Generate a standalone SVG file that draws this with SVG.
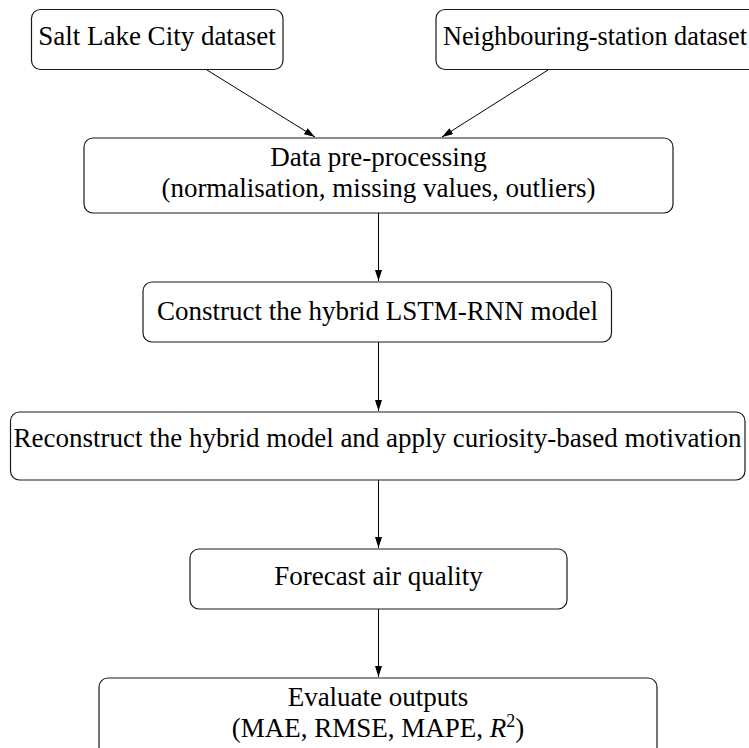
<svg xmlns="http://www.w3.org/2000/svg" width="749" height="748" viewBox="0 0 749 748">
<style>
.box{fill:#fff;stroke:#1a1a1a;stroke-width:1.2}
.t{font-family:"Liberation Serif","Times New Roman",serif;font-size:27px;fill:#000;text-anchor:middle}
.c{stroke:#000;stroke-width:1;fill:none;marker-end:url(#ah)}
</style>
<defs>
<marker id="ah" markerWidth="12" markerHeight="8" refX="11" refY="3.5" orient="auto" markerUnits="userSpaceOnUse">
<path d="M0,0 L11,3.5 L0,7 z" fill="#000"/>
</marker>
</defs>
<rect width="749" height="748" fill="#fff"/>
<g id="connectors">
<line class="c" x1="207" y1="70" x2="315" y2="137"/>
<line class="c" x1="548" y1="70" x2="442" y2="137"/>
<line class="c" x1="378.5" y1="213" x2="378.5" y2="281"/>
<line class="c" x1="378.5" y1="342" x2="378.5" y2="411"/>
<line class="c" x1="378.5" y1="480" x2="378.5" y2="548"/>
<line class="c" x1="378.5" y1="609" x2="378.5" y2="677"/>
</g>
<g id="salt-lake">
<rect class="box" x="31.5" y="9.5" width="251.5" height="60" rx="9"/>
<text class="t" x="157" y="45">Salt Lake City dataset</text>
</g>
<g id="neighbouring">
<rect class="box" x="436" y="9.5" width="330" height="60" rx="9"/>
<text class="t" x="443" y="45" style="text-anchor:start" textLength="304" lengthAdjust="spacingAndGlyphs">Neighbouring-station dataset</text>
</g>
<g id="preprocessing">
<rect class="box" x="84" y="138" width="589" height="75" rx="9"/>
<text class="t" x="378.5" y="166">Data pre-processing</text>
<text class="t" x="378.5" y="197">(normalisation, missing values, outliers)</text>
</g>
<g id="construct">
<rect class="box" x="143" y="282" width="468.5" height="60" rx="9"/>
<text class="t" x="377.5" y="320">Construct the hybrid LSTM-RNN model</text>
</g>
<g id="reconstruct">
<rect class="box" x="10.5" y="412" width="734.5" height="68" rx="9"/>
<text class="t" x="377.5" y="447">Reconstruct the hybrid model and apply curiosity-based motivation</text>
</g>
<g id="forecast">
<rect class="box" x="190" y="549" width="377" height="60" rx="9"/>
<text class="t" x="378.5" y="585">Forecast air quality</text>
</g>
<g id="evaluate">
<rect class="box" x="99" y="678" width="558" height="80" rx="9"/>
<text class="t" x="378" y="706">Evaluate outputs</text>
<text class="t" x="378" y="737">(MAE, RMSE, MAPE, <tspan font-style="italic">R</tspan><tspan font-size="18" dy="-10">2</tspan><tspan dy="10">)</tspan></text>
</g>
</svg>
